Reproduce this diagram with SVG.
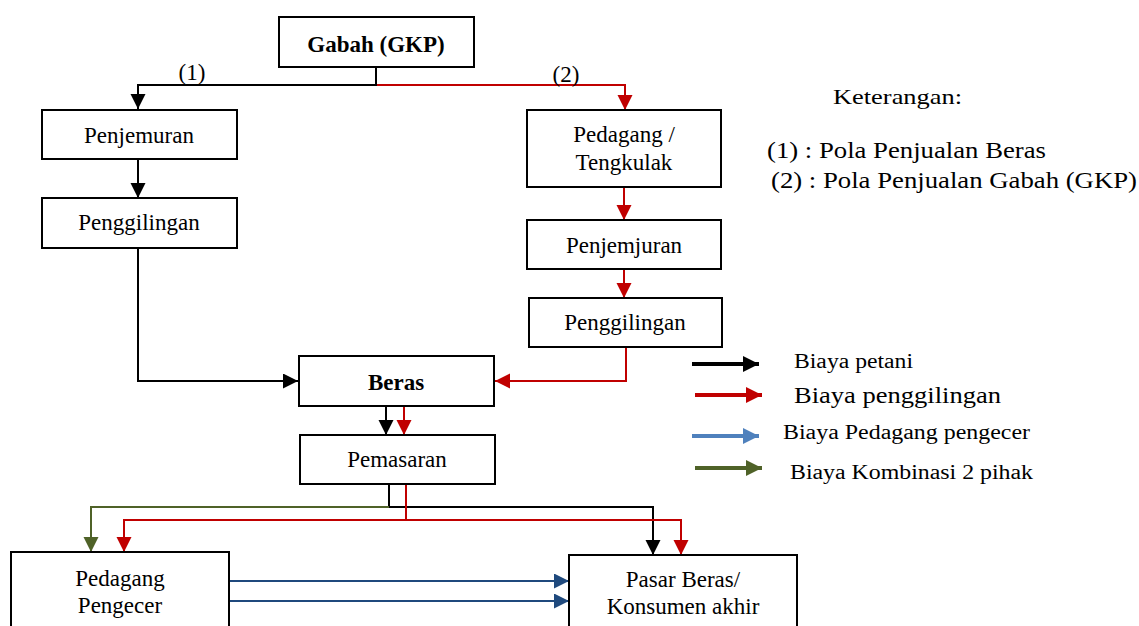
<svg xmlns="http://www.w3.org/2000/svg" width="1139" height="626" viewBox="0 0 1139 626">
<style>
.box{fill:#fff;stroke:#000;stroke-width:2}
.t{font-family:"Liberation Serif","Times New Roman",serif;font-size:23px;fill:#000;text-anchor:middle}
.b{font-weight:bold}
.lg{font-family:"Liberation Serif","Times New Roman",serif;fill:#000}
.c{fill:none;stroke-width:2}
.k{stroke:#000}.r{stroke:#c00000}.g{stroke:#4f6228}.bl{stroke:#1f497d}
</style>
<defs>
<marker id="ak" markerUnits="userSpaceOnUse" markerWidth="16" markerHeight="16" refX="15" refY="7.5" orient="auto"><path d="M0,0 L15,7.5 L0,15 Z" fill="#000"/></marker>
<marker id="ar" markerUnits="userSpaceOnUse" markerWidth="16" markerHeight="16" refX="15" refY="7.5" orient="auto"><path d="M0,0 L15,7.5 L0,15 Z" fill="#c00000"/></marker>
<marker id="ag" markerUnits="userSpaceOnUse" markerWidth="16" markerHeight="16" refX="15" refY="7.5" orient="auto"><path d="M0,0 L15,7.5 L0,15 Z" fill="#4f6228"/></marker>
<marker id="ab" markerUnits="userSpaceOnUse" markerWidth="16" markerHeight="16" refX="15" refY="7.5" orient="auto"><path d="M0,0 L15,7.5 L0,15 Z" fill="#1f497d"/></marker>
<marker id="Lk" markerUnits="userSpaceOnUse" markerWidth="18" markerHeight="18" refX="16" refY="8" orient="auto"><path d="M0,0 L16,8 L0,16 Z" fill="#000"/></marker>
<marker id="Lr" markerUnits="userSpaceOnUse" markerWidth="18" markerHeight="18" refX="16" refY="8" orient="auto"><path d="M0,0 L16,8 L0,16 Z" fill="#c00000"/></marker>
<marker id="Lb" markerUnits="userSpaceOnUse" markerWidth="18" markerHeight="18" refX="16" refY="8" orient="auto"><path d="M0,0 L16,8 L0,16 Z" fill="#4f81bd"/></marker>
<marker id="Lg" markerUnits="userSpaceOnUse" markerWidth="18" markerHeight="18" refX="16" refY="8" orient="auto"><path d="M0,0 L16,8 L0,16 Z" fill="#4f6228"/></marker>
</defs>
<rect width="1139" height="626" fill="#fff"/>
<g id="connectors">
<path class="c k" d="M376,67 V85 H138 V109" marker-end="url(#ak)"/>
<path class="c r" d="M377,85 H625 V110" marker-end="url(#ar)"/>
<path class="c k" d="M138,159 V198" marker-end="url(#ak)"/>
<path class="c r" d="M624,187 V220" marker-end="url(#ar)"/>
<path class="c r" d="M624,269 V298" marker-end="url(#ar)"/>
<path class="c k" d="M138,248 V381 H298" marker-end="url(#ak)"/>
<path class="c r" d="M626,347 V381 H495" marker-end="url(#ar)"/>
<path class="c k" d="M386,406 V435" marker-end="url(#ak)"/>
<path class="c r" d="M404,406 V435" marker-end="url(#ar)"/>
<path class="c k" d="M389,484 V507 H653 V555" marker-end="url(#ak)"/>
<path class="c g" d="M389,507 H91 V552" marker-end="url(#ag)"/>
<path class="c r" d="M406,484 V520 H124 V552" marker-end="url(#ar)"/>
<path class="c r" d="M406,520 H681 V555" marker-end="url(#ar)"/>
<path class="c bl" d="M229,581 H569" marker-end="url(#ab)"/>
<path class="c bl" d="M229,601 H569" marker-end="url(#ab)"/>
<text class="t" x="192" y="80">(1)</text>
<text class="t" x="566" y="82">(2)</text>
</g>
<g id="gabah"><rect class="box" x="279" y="17" width="195" height="50"/><text class="t b" x="376" y="52">Gabah (GKP)</text></g>
<g id="penjemuran"><rect class="box" x="42" y="110" width="195" height="49"/><text class="t" x="139" y="143">Penjemuran</text></g>
<g id="penggilingan1"><rect class="box" x="42" y="198" width="195" height="50"/><text class="t" x="139" y="230">Penggilingan</text></g>
<g id="pedagang"><rect class="box" x="527" y="110" width="194" height="77"/><text class="t" x="624" y="142">Pedagang /</text><text class="t" x="624" y="170">Tengkulak</text></g>
<g id="penjemjuran"><rect class="box" x="527" y="220" width="194" height="49"/><text class="t" x="624" y="253">Penjemjuran</text></g>
<g id="penggilingan2"><rect class="box" x="529" y="298" width="193" height="49"/><text class="t" x="625" y="330">Penggilingan</text></g>
<g id="beras"><rect class="box" x="299" y="356" width="195" height="50"/><text class="t b" x="396" y="390">Beras</text></g>
<g id="pemasaran"><rect class="box" x="300" y="435" width="195" height="49"/><text class="t" x="397" y="467">Pemasaran</text></g>
<g id="pengecer"><rect class="box" x="11" y="552" width="218" height="80"/><text class="t" x="120" y="586">Pedagang</text><text class="t" x="120" y="613">Pengecer</text></g>
<g id="pasar"><rect class="box" x="569" y="555" width="228" height="80"/><text class="t" x="683" y="587">Pasar Beras/</text><text class="t" x="683" y="614">Konsumen akhir</text></g>
<g id="keterangan">
<text class="lg" x="833" y="104" font-size="22" textLength="129" lengthAdjust="spacingAndGlyphs">Keterangan:</text>
<text class="lg" x="767" y="158" font-size="23" textLength="279" lengthAdjust="spacingAndGlyphs">(1) : Pola Penjualan Beras</text>
<text class="lg" x="771" y="188" font-size="23" textLength="366" lengthAdjust="spacingAndGlyphs">(2) : Pola Penjualan Gabah (GKP)</text>
</g>
<g id="legend">
<path d="M692,364 H759" stroke="#000" stroke-width="4" marker-end="url(#Lk)"/>
<path d="M695,395 H762" stroke="#c00000" stroke-width="4" marker-end="url(#Lr)"/>
<path d="M692,436 H759" stroke="#4f81bd" stroke-width="4" marker-end="url(#Lb)"/>
<path d="M695,468 H762" stroke="#4f6228" stroke-width="4" marker-end="url(#Lg)"/>
<text class="lg" x="794" y="368" font-size="20" textLength="119" lengthAdjust="spacingAndGlyphs">Biaya petani</text>
<text class="lg" x="794" y="403" font-size="23" textLength="207" lengthAdjust="spacingAndGlyphs">Biaya penggilingan</text>
<text class="lg" x="783" y="439" font-size="20" textLength="247" lengthAdjust="spacingAndGlyphs">Biaya Pedagang pengecer</text>
<text class="lg" x="790" y="479" font-size="20" textLength="243" lengthAdjust="spacingAndGlyphs">Biaya Kombinasi 2 pihak</text>
</g>
</svg>
